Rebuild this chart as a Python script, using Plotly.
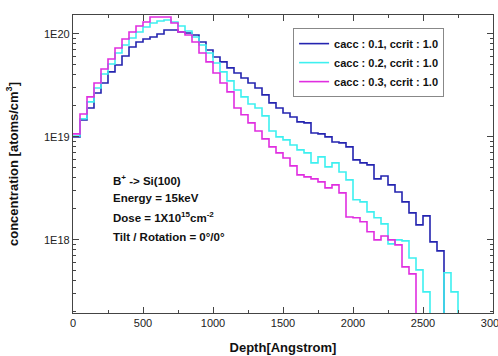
import plotly.graph_objects as go

# Bin width 50 Angstrom, bins starting at depth 0
bin_width = 50

# concentrations in units of 1e19 atoms/cm^3 (0 = empty bin)
cacc01 = [1.00, 1.46, 1.91, 2.67, 3.34, 4.28, 5.00, 6.11, 7.48, 8.36,
          8.94, 9.35, 10.0, 10.94, 10.94, 10.45, 10.23, 9.77, 8.36, 6.99,
          5.98, 5.35, 4.68, 4.18, 3.74, 3.34, 2.99, 2.56, 2.14, 1.91,
          1.71, 1.56, 1.40, 1.37, 1.09, 1.07, 1.00, 0.894, 0.875, 0.80,
          0.598, 0.560, 0.535, 0.391, 0.418, 0.342, 0.292, 0.234, 0.183, 0.140,
          0.171, 0.0957, 0.0782]
cacc02 = [1.02, 1.50, 2.19, 2.99, 4.09, 5.11, 6.54, 7.82, 9.14, 10.45,
          11.69, 12.79, 13.37, 13.68, 13.08, 11.96, 10.69, 9.35, 7.82, 6.54,
          5.23, 4.28, 3.50, 2.86, 2.45, 2.09, 1.91, 1.60, 1.14, 1.00,
          0.935, 0.836, 0.748, 0.70, 0.560, 0.640, 0.512, 0.560, 0.457, 0.383,
          0.245, 0.234, 0.187, 0.164, 0.143, 0.0915, 0.100, 0.0978, 0.0668, 0.0512,
          0.0313, 0, 0, 0.0479, 0.0313]
cacc03 = [1.07, 1.67, 2.45, 3.34, 4.57, 5.72, 7.31, 8.94, 10.45, 11.96,
          13.08, 14.62, 14.62, 14.62, 12.79, 10.45, 9.77, 8.36, 6.54, 5.35,
          4.18, 3.34, 2.74, 1.91, 1.64, 1.37, 1.14, 0.957, 0.80, 0.70,
          0.625, 0.523, 0.428, 0.409, 0.391, 0.366, 0.320, 0.342, 0.286, 0.167,
          0.164, 0.150, 0.120, 0.100, 0.109, 0.100, 0.0894, 0.0547, 0.0468]

series = [
    ("cacc : 0.1, ccrit : 1.0", cacc01, "#2424b0"),
    ("cacc : 0.2, ccrit : 1.0", cacc02, "#3ef0f0"),
    ("cacc : 0.3, ccrit : 1.0", cacc03, "#e02ee0"),
]

x_ticks = [0, 500, 1000, 1500, 2000, 2500, 3000]
y_ticks = [1e18, 1e19, 1e20]
y_ticktext = ["1E18", "1E19", "1E20"]

FLOOR = 1e15  # below visible range -> drawn as drop to axis bottom

fig = go.Figure()
for name, vals, color in series:
    xs, ys = [], []
    for i, v in enumerate(vals):
        xs.append(i * bin_width)
        ys.append(v * 1e19 if v > 0 else FLOOR)
    xs.append(len(vals) * bin_width)
    ys.append(FLOOR)
    fig.add_trace(go.Scatter(x=xs, y=ys, mode="lines", name=name,
                             line=dict(color=color, width=1.6, shape="hv")))

font_family = "Liberation Sans, Arial, sans-serif"

minor_y = [float(k) * 10.0 ** e for e in (17, 18, 19, 20) for k in range(2, 10)]

fig.update_layout(
    width=498, height=356,
    margin=dict(l=73, r=5, t=15, b=43, autoexpand=False),
    paper_bgcolor="white", plot_bgcolor="white",
    font=dict(family=font_family, size=11, color="#222"),
    showlegend=True,
    legend=dict(x=0.524, y=0.956, xanchor="left", yanchor="top",
                bgcolor="white", bordercolor="#888", borderwidth=1,
                font=dict(family=font_family, size=11, weight="bold", color="#111"),
                tracegroupgap=0, itemwidth=30),
    xaxis=dict(range=[0, 3000], tickvals=x_ticks, ticklabeloverflow="allow",
               automargin=False,
               ticks="inside", ticklen=6, tickwidth=1, tickcolor="#444",
               showline=True, linecolor="#444", linewidth=1.2, mirror="ticks",
               showgrid=False, zeroline=False,
               minor=dict(ticks="inside", ticklen=3, tickcolor="#444", dtick=250, showgrid=False),
               tickfont=dict(size=11, color="#222"),
               title=dict(text="Depth[Angstrom]", standoff=14,
                          font=dict(size=13, weight="bold", color="#111"))),
    yaxis=dict(type="log", range=[17.29, 20.184],
               tickvals=y_ticks, ticktext=y_ticktext,
               automargin=False,
               ticks="inside", ticklen=6, tickwidth=1, tickcolor="#444",
               showline=True, linecolor="#444", linewidth=1.2, mirror="ticks",
               showgrid=False, zeroline=False,
               minor=dict(ticks="inside", ticklen=3, tickcolor="#444", tickvals=minor_y, showgrid=False),
               tickfont=dict(size=11, color="#222"),
               title=dict(text="concentration [atoms/cm<sup>3</sup>]", standoff=22,
                          font=dict(size=13, weight="bold", color="#111"))),
)

notes = [
    ("B<sup>+</sup> -> Si(100)", 0.446),
    ("Energy = 15keV", 0.386),
    ("Dose = 1X10<sup>15</sup>cm<sup>-2</sup>", 0.322),
    ("Tilt / Rotation = 0°/0°", 0.255),
]
for txt, yy in notes:
    fig.add_annotation(text=txt, x=0.0905, y=yy, xref="paper", yref="paper",
                       xanchor="left", yanchor="middle", showarrow=False,
                       font=dict(family=font_family, size=11.5, weight="bold", color="#111"))

fig.write_html("out.html")
